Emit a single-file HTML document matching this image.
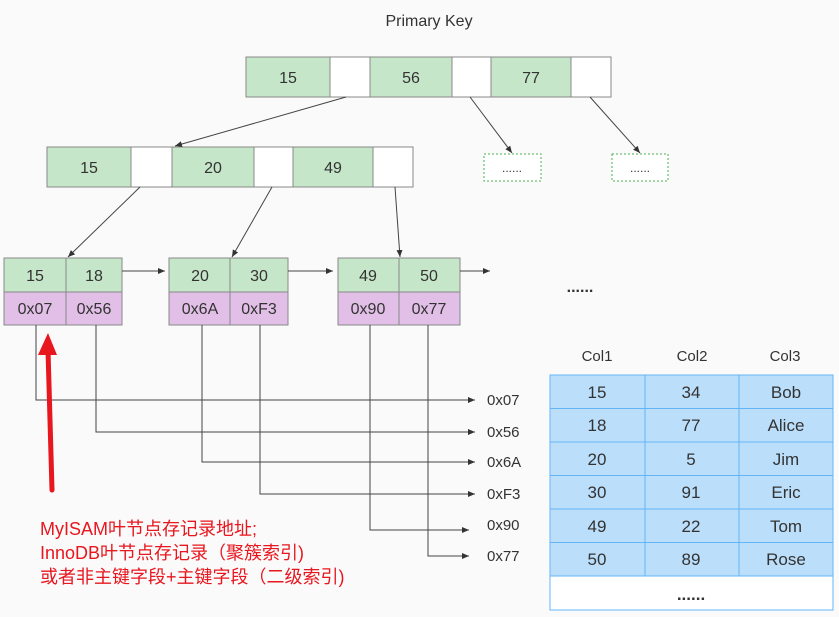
<!DOCTYPE html>
<html><head><meta charset="utf-8"><style>
body{margin:0;background:#fafafa;}
svg{display:block;font-family:"Liberation Sans","Noto Sans CJK SC",sans-serif;}
</style></head><body>
<svg width="839" height="617" viewBox="0 0 839 617" xmlns="http://www.w3.org/2000/svg">
<defs><marker id="a" markerWidth="8" markerHeight="8" refX="7" refY="3" orient="auto" markerUnits="userSpaceOnUse"><path d="M0,0 L7,3 L0,6 z" fill="#333"/></marker></defs>
<rect width="839" height="617" fill="#fafafa"/>
<text x="429" y="26" font-size="16" fill="#333" text-anchor="middle">Primary Key</text>
<g stroke="#888" stroke-width="1">
<rect x="246" y="57" width="84" height="40" fill="#c6e6c9"/><rect x="330" y="57" width="40" height="40" fill="#fff"/>
<rect x="370" y="57" width="82" height="40" fill="#c6e6c9"/><rect x="452" y="57" width="39" height="40" fill="#fff"/>
<rect x="491" y="57" width="80" height="40" fill="#c6e6c9"/><rect x="571" y="57" width="40" height="40" fill="#fff"/>
<rect x="47" y="147" width="84" height="40" fill="#c6e6c9"/><rect x="131" y="147" width="41" height="40" fill="#fff"/>
<rect x="172" y="147" width="82" height="40" fill="#c6e6c9"/><rect x="254" y="147" width="39" height="40" fill="#fff"/>
<rect x="293" y="147" width="80" height="40" fill="#c6e6c9"/><rect x="373" y="147" width="40" height="40" fill="#fff"/>
<rect x="4" y="258" width="62" height="34" fill="#c6e6c9"/><rect x="66" y="258" width="56" height="34" fill="#c6e6c9"/>
<rect x="4" y="292" width="62" height="33" fill="#e1bfe6"/><rect x="66" y="292" width="56" height="33" fill="#e1bfe6"/>
<rect x="169" y="258" width="61" height="34" fill="#c6e6c9"/><rect x="230" y="258" width="58" height="34" fill="#c6e6c9"/>
<rect x="169" y="292" width="61" height="33" fill="#e1bfe6"/><rect x="230" y="292" width="58" height="33" fill="#e1bfe6"/>
<rect x="338" y="258" width="61" height="34" fill="#c6e6c9"/><rect x="399" y="258" width="61" height="34" fill="#c6e6c9"/>
<rect x="338" y="292" width="61" height="33" fill="#e1bfe6"/><rect x="399" y="292" width="61" height="33" fill="#e1bfe6"/>
</g>
<rect x="484" y="154" width="57" height="27" fill="#fff" stroke="#4caf50" stroke-dasharray="2,2"/>
<rect x="612" y="154" width="56" height="27" fill="#fff" stroke="#4caf50" stroke-dasharray="2,2"/>
<g font-size="16" fill="#333" text-anchor="middle">
<text x="288" y="83">15</text><text x="411" y="83">56</text><text x="531" y="83">77</text>
<text x="89" y="173">15</text><text x="213" y="173">20</text><text x="333" y="173">49</text>
<text x="512" y="172" font-size="12">......</text><text x="640" y="172" font-size="12">......</text>
<text x="35" y="281">15</text><text x="94" y="281">18</text>
<text x="35" y="314">0x07</text><text x="94" y="314">0x56</text>
<text x="200" y="281">20</text><text x="259" y="281">30</text>
<text x="200" y="314">0x6A</text><text x="259" y="314">0xF3</text>
<text x="368" y="281">49</text><text x="429" y="281">50</text>
<text x="368" y="314">0x90</text><text x="429" y="314">0x77</text>
<text x="580" y="292" font-weight="bold">......</text>
</g>
<g stroke="#444" stroke-width="1" fill="none" marker-end="url(#a)">
<line x1="346" y1="97" x2="175" y2="146"/>
<line x1="470" y1="97" x2="512" y2="153"/>
<line x1="590" y1="97" x2="640" y2="153"/>
<line x1="140" y1="187" x2="68" y2="257"/>
<line x1="272" y1="187" x2="232" y2="257"/>
<line x1="395" y1="187" x2="400" y2="257"/>
<line x1="122" y1="271" x2="165" y2="271"/>
<line x1="288" y1="271" x2="333" y2="271"/>
<line x1="460" y1="271" x2="490" y2="271"/>
<polyline points="36,325 36,400 475,400"/>
<polyline points="96,325 96,432 475,432"/>
<polyline points="202,325 202,462 475,462"/>
<polyline points="260,325 260,494 475,494"/>
<polyline points="370,325 370,530 469,530"/>
<polyline points="428,325 428,556 469,556"/>
</g>
<g font-size="15" fill="#333">
<text x="487" y="405">0x07</text><text x="487" y="437">0x56</text><text x="487" y="467">0x6A</text>
<text x="487" y="499">0xF3</text><text x="487" y="530">0x90</text><text x="487" y="561">0x77</text>
</g>
<line x1="52" y1="490" x2="48" y2="350" stroke="#e8161e" stroke-width="5" stroke-linecap="round"/>
<path d="M38,355 L48,333 L57,355 z" fill="#e8161e"/>
<g font-size="18" fill="#e8161e">
<text x="40" y="535">MyISAM叶节点存记录地址;</text>
<text x="40" y="559">InnoDB叶节点存记录（聚簇索引)</text>
<text x="40" y="583">或者非主键字段+主键字段（二级索引)</text>
</g>
<g font-size="15" fill="#333" text-anchor="middle">
<text x="597" y="361">Col1</text><text x="692" y="361">Col2</text><text x="785" y="361">Col3</text>
</g>
<rect x="550" y="375" width="283" height="201" fill="#bbdefa" stroke="#64b5f6"/>
<rect x="550" y="576" width="283" height="34" fill="#fff" stroke="#64b5f6"/>
<g stroke="#64b5f6">
<line x1="645" y1="375" x2="645" y2="576"/><line x1="739" y1="375" x2="739" y2="576"/>
<line x1="550" y1="408.5" x2="833" y2="408.5"/><line x1="550" y1="442" x2="833" y2="442"/>
<line x1="550" y1="475.5" x2="833" y2="475.5"/><line x1="550" y1="509" x2="833" y2="509"/>
<line x1="550" y1="542.5" x2="833" y2="542.5"/>
</g>
<g font-size="17" fill="#333" text-anchor="middle">
<text x="597" y="398">15</text><text x="691" y="398">34</text><text x="786" y="398">Bob</text>
<text x="597" y="431">18</text><text x="691" y="431">77</text><text x="786" y="431">Alice</text>
<text x="597" y="465">20</text><text x="691" y="465">5</text><text x="786" y="465">Jim</text>
<text x="597" y="498">30</text><text x="691" y="498">91</text><text x="786" y="498">Eric</text>
<text x="597" y="532">49</text><text x="691" y="532">22</text><text x="786" y="532">Tom</text>
<text x="597" y="565">50</text><text x="691" y="565">89</text><text x="786" y="565">Rose</text>
<text x="691" y="600" font-weight="bold">......</text>
</g>
</svg>
</body></html>
